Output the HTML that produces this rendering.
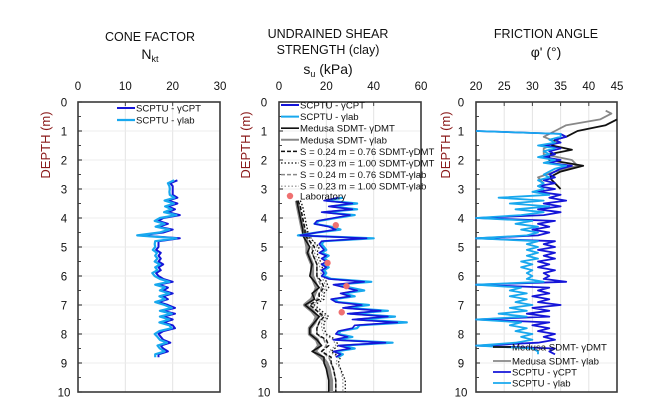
<!DOCTYPE html>
<html><head><meta charset="utf-8">
<style>
body{margin:0;background:#fff;}
svg{display:block;font-family:"Liberation Sans",Arial,sans-serif;}
</style></head>
<body>
<svg id="chart" width="650" height="414" viewBox="0 0 650 414" xmlns="http://www.w3.org/2000/svg"></svg>
<script>
// ---------- DATA ----------
const depthTicks = [0,1,2,3,4,5,6,7,8,9,10];
const nktXTicks = [0,10,20,30];
const suXTicks = [0,20,40,60];
const phiXTicks = [20,25,30,35,40,45];

// Panel 1: cone factor Nkt
const nktDepth = [2.7,2.8,2.9,3.0,3.1,3.2,3.3,3.4,3.5,3.6,3.7,3.8,3.9,4.0,4.1,4.2,4.3,4.4,4.5,4.6,4.7,4.8,4.9,5.0,5.1,5.2,5.3,5.4,5.5,5.6,5.7,5.8,5.9,6.0,6.1,6.2,6.3,6.4,6.5,6.6,6.7,6.8,6.9,7.0,7.1,7.2,7.3,7.4,7.5,7.6,7.7,7.8,7.9,8.0,8.1,8.2,8.3,8.4,8.5,8.6,8.7,8.8];
const nktCPT = [21,19.5,20,20,20,20,21,19,21,19,20.5,19,21.5,18,17,19,17,20,18,13,21.5,17,17,17,16.5,17.5,17,17.5,17,18,17,17.5,16.5,17,18,20,17,19,18,20,18,19,17,19,20.5,18,20.5,18,20,18,20,20.5,18,17,17.5,18,19.5,17.5,18,19,17,17];
const nktLab = [20.3,19,19.3,19.4,19.3,19.4,20.4,18.3,20.3,18.4,19.8,18.2,20.8,17.3,16.2,18.3,16.4,19.3,17.2,12.5,20.8,16.3,16.2,16.3,15.8,16.7,16.3,16.8,16.2,17.3,16.3,16.8,15.7,16.2,17.3,19.3,16.3,18.4,17.3,19.3,17.2,18.4,16.3,18.3,19.8,17.3,19.8,17.3,19.3,17.2,19.3,19.8,17.2,16.2,16.8,17.3,18.8,16.8,17.3,18.3,16.3,16.3];

// Panel 2: undrained shear strength
const suDepth = [3.3,3.4,3.5,3.6,3.7,3.8,3.9,4.0,4.1,4.2,4.3,4.4,4.5,4.6,4.7,4.8,4.9,5.0,5.1,5.2,5.3,5.4,5.5,5.6,5.7,5.8,5.9,6.0,6.1,6.2,6.3,6.4,6.5,6.6,6.7,6.8,6.9,7.0,7.1,7.2,7.3,7.4,7.5,7.6,7.7,7.8,7.9,8.0,8.1,8.2,8.3,8.4,8.5,8.6,8.7,8.8];
const suCPT = [25,19,31,21,31,18,30,23,16,15,21,24,16,9,37,18,17,18,19,17,20,18,20,18,20,18,19,18,21,36,23,28,33,26,30,22,24,35,27,43,29,46,31,50,32,31,25,24,29,23,45,25,30,23,26,24];
const suLab = [27,20,33,22,33,19,32,24,17,15,22,26,16,8,40,19,18,19,20,18,21,19,21,19,21,19,20,19,22,39,24,30,36,27,32,23,25,38,28,46,30,49,33,54,34,33,26,25,31,24,48,26,32,24,27,25];
const dmtDepth = [3.4,3.6,4.0,4.4,4.6,5.0,5.2,5.6,6.0,6.2,6.4,6.6,6.8,7.0,7.2,7.4,7.6,7.8,8.0,8.2,8.4,8.6,8.8,9.0,9.2,9.6,10];
const suDMT = [7.5,8,9,10,10,13,12,14,13,15,17,14,15,11,14,17,15,13,13,16,18,14,19,19,20,21,21];
const suDMTlab = [7.5,8,9,10,11,12,12,14,14,15,16,15,14,11,14,16,15,13,13,16,17,15,18,20,21,22,22];
const suS076DMT = [8,9,10,11,11,15,14,16,16,18,19,17,17,13,16,19,17,16,16,20,21,18,22,22,23,24,24];
const suS100DMT = [9,10,11,12,12,17,16,18,19,20,21,19,19,15,18,21,19,19,20,24,25,22,26,25,26,28,28];
const suS076lab = [8,9,10,11,12,14,14,16,16,17,18,17,16,13,16,18,17,16,16,19,20,18,21,22,23,24,24];
const suS100lab = [9,10,11,12,13,16,15,17,18,19,20,18,18,14,17,20,18,18,19,23,24,21,25,24,26,27,27];
const labDepth = [4.25,5.55,6.35,7.25];
const labSu = [24,20.5,28.5,26.5];

// Panel 3: friction angle
const phiDepth = [1.0,1.1,1.2,1.3,1.4,1.5,1.6,1.7,1.8,1.9,2.0,2.1,2.2,2.3,2.4,2.5,2.6,2.7,2.8,2.9,3.0,3.1,3.2,3.3,3.4,3.5,3.6,3.7,3.8,3.9,4.0,4.1,4.2,4.3,4.4,4.5,4.6,4.7,4.8,4.9,5.0,5.1,5.2,5.3,5.4,5.5,5.6,5.7,5.8,5.9,6.0,6.1,6.2,6.3,6.4,6.5,6.6,6.7,6.8,6.9,7.0,7.1,7.2,7.3,7.4,7.5,7.6,7.7,7.8,7.9,8.0,8.1,8.2,8.3,8.4,8.5,8.6,8.7];
const phiCPT = [20,35,36,34,35,32,35,33,34,32,35,33,37,35,34,33,34,32,34,31,34,31,35,33,36,32,35,31,35,32,20,34,31,33,30,33,31,20,34,32,34,31,34,32,34,31,33,31,34,32,33,32,36,20,33,31,33,30,33,31,35,30,33,29,33,20,33,30,33,31,34,32,34,31,20,34,33,34];
const phiLab = [20,35,35,33,34,31,34,32,33,31,34,32,36,34,33,32,33,31,32,31,32,30,33,24,32,26,33,27,32,28,20,30,27,31,28,31,29,20,31,29,31,29,31,29,31,28,30,28,30,29,30,29,32,20,28,26,29,26,29,27,30,26,29,24,29,20,28,26,29,27,30,28,30,27,20,30,31,31];
const phiDmtDepth = [0.6,0.8,1.0,1.2,1.3,1.5,1.65,1.8,2.0,2.2,2.4,2.6,2.8,3.0];
const phiDMT = [45,43,38,36,34,33.5,37,33,33,39,35,33,34,35];
const phiDmtLabDepth = [0.3,0.4,0.6,0.8,1.0,1.2,1.4,1.6,1.8,2.0,2.2,2.4,2.6,2.8];
const phiDMTlab = [43,44,42,36,34,32,34.5,32,32,37,38,34,31,32];

// ---------- DRAW ----------
const NS='http://www.w3.org/2000/svg';
const svg=document.getElementById('chart');
function el(tag,attrs,parent){const e=document.createElementNS(NS,tag);for(const k in attrs)e.setAttribute(k,attrs[k]);(parent||svg).appendChild(e);return e;}
const Y0=102,Y1=392;
const yS=d=>Y0+(d/10)*(Y1-Y0);
function makeX(x0,x1,v0,v1){return v=>x0+(v-v0)/(v1-v0)*(x1-x0);}

function panel(name,x0,x1,v0,v1,xticks,depthLabelX,tickLabelX){
  const g=el('g',{});
  
  
  const xs=makeX(x0,x1,v0,v1);
  xticks.forEach(t=>{
    const gl=el('line',{x1:xs(t),x2:xs(t),y1:Y0,y2:Y1,stroke:'#e4e4e4','stroke-width':1},g);
    
    
    const tl=el('text',{x:xs(t),y:90,'font-size':11.5,'text-anchor':'middle',fill:'#111'},g);
    
    
    tl.textContent=t;
  });
  depthTicks.forEach(t=>{
    const gl=el('line',{x1:x0,x2:x1,y1:yS(t),y2:yS(t),stroke:'#ececec','stroke-width':1},g);
    
    
    el('line',{x1:x0,x2:x0+4,y1:yS(t),y2:yS(t),stroke:'#444','stroke-width':1.2},g);
    if(t<10) el('line',{x1:x0,x2:x0+3,y1:yS(t+0.5),y2:yS(t+0.5),stroke:'#444','stroke-width':1},g);
    const tl=el('text',{x:tickLabelX,y:yS(t)+4.5,'font-size':11.5,'text-anchor':'middle',fill:'#111'},g);
    
    
    tl.textContent=t;
  });
  xticks.forEach(t=>el('line',{x1:xs(t),x2:xs(t),y1:Y0,y2:Y0+4,stroke:'#444','stroke-width':1},g));
  const fr=el('rect',{x:x0,y:Y0,width:x1-x0,height:Y1-Y0,fill:'none',stroke:'#3a3a3a','stroke-width':1.6},g);
  
  
  const cy=145;
  const yl=el('text',{x:depthLabelX,y:cy,'font-size':13,'text-anchor':'middle',fill:'#8b1a1a',transform:`rotate(-90 ${depthLabelX} ${cy})`},g);
  
  
  yl.textContent='DEPTH (m)';
  return {g,xs};
}
function line(p,xsArr,ds,color,w,dash,name,opacity){
  const pts=xsArr.map((v,i)=>p.xs(v).toFixed(1)+','+yS(ds[i]).toFixed(1)).join(' ');
  const a={points:pts,fill:'none',stroke:color,'stroke-width':w,'stroke-linejoin':'round'};
  if(dash)a['stroke-dasharray']=dash;
  if(opacity)a['stroke-opacity']=opacity;
  const l=el('polyline',a,p.g);
  
  
  return l;
}
function legend(g,x,y,color,w,dash,label,name,marker){
  const lg=el('g',{},g);
  
  
  if(marker){el('circle',{cx:x+9,cy:y,r:3.2,fill:'#ef7070'},lg);}
  else{const a={x1:x,x2:x+18,y1:y,y2:y,stroke:color,'stroke-width':w};if(dash)a['stroke-dasharray']=dash;el('line',a,lg);}
  const t=el('text',{x:x+19,y:y+3.5,'font-size':9.6,fill:'#111'},lg);
  t.textContent=label;
}
function title(lines){
  lines.forEach(l=>{
    const t=el('text',{x:l[0],y:l[1],'font-size':l[2]||13,'text-anchor':'middle',fill:'#111'});
    
    
    t.innerHTML=l[3];
  });
}

// Panel 1
const p1=panel('cone-factor-panel',78,220,0,30,nktXTicks,50,64);
line(p1,nktCPT,nktDepth,'#1515d8',2,null,'nkt-gammacpt-line');
line(p1,nktLab,nktDepth,'#18a8ee',2.2,null,'nkt-gammalab-line');
legend(p1.g,117,108,'#1515d8',2,null,'SCPTU - γCPT','legend-nkt-gammacpt');
legend(p1.g,117,120,'#18a8ee',2.2,null,'SCPTU - γlab','legend-nkt-gammalab');
title([[150,41,12.5,'CONE FACTOR','panel1-title'],[150,59,14,'N<tspan font-size="9" dy="3">kt</tspan>','panel1-unit']]);

// Panel 2
const p2=panel('undrained-shear-strength-panel',279,421,0,60,suXTicks,250,264);
line(p2,suDMTlab,dmtDepth,'#888',4,null,'su-sdmt-gammalab-line');
line(p2,suDMT,dmtDepth,'#111',1.6,null,'su-sdmt-gammadmt-line');
line(p2,suS076lab,dmtDepth,'#888',1.5,'4,2','su-s076-sdmt-gammalab-line');
line(p2,suS076DMT,dmtDepth,'#111',1.5,'4,2','su-s076-sdmt-gammadmt-line');
line(p2,suS100lab,dmtDepth,'#888',1.2,'1.5,2','su-s100-sdmt-gammalab-line');
line(p2,suS100DMT,dmtDepth,'#111',1.3,'1.5,2','su-s100-sdmt-gammadmt-line');
line(p2,suLab,suDepth,'#18a8ee',2.2,null,'su-gammalab-line');
line(p2,suCPT,suDepth,'#1515d8',1.6,null,'su-gammacpt-line');
labDepth.forEach((d,i)=>{const c=el('circle',{cx:p2.xs(labSu[i]),cy:yS(d),r:3.2,fill:'#ef7070'},p2.g);
  
  });
const lg2=[['#1515d8',2,null,'SCPTU - γCPT','legend-su-gammacpt'],['#18a8ee',2,null,'SCPTU - γlab','legend-su-gammalab'],['#111',1.6,null,'Medusa SDMT- γDMT','legend-su-sdmt-gammadmt'],['#888',2,null,'Medusa SDMT- γlab','legend-su-sdmt-gammalab'],['#111',1.5,'4,2','S = 0.24 m = 0.76 SDMT-γDMT','legend-su-s076-dmt'],['#111',1.3,'1.5,2','S = 0.23 m = 1.00 SDMT-γDMT','legend-su-s100-dmt'],['#888',1.5,'4,2','S = 0.24 m = 0.76 SDMT-γlab','legend-su-s076-lab'],['#888',1.2,'1.5,2','S = 0.23 m = 1.00 SDMT-γlab','legend-su-s100-lab']];
lg2.forEach((l,i)=>legend(p2.g,281,105+i*11.6,l[0],l[1],l[2],l[3],l[4]));
legend(p2.g,281,196,null,0,null,'Laboratory','legend-laboratory',true);
title([[328,38,12.5,'UNDRAINED SHEAR','panel2-title-1'],[328,54,12.5,'STRENGTH (clay)','panel2-title-2'],[328,74,14,'s<tspan font-size="9" dy="3">u</tspan><tspan dy="-3"> (kPa)</tspan>','panel2-unit']]);

// Panel 3
const p3=panel('friction-angle-panel',476,617,20,45,phiXTicks,450,461);
line(p3,phiDMTlab,phiDmtLabDepth,'#888',1.8,null,'phi-sdmt-gammalab-line');
line(p3,phiDMT,phiDmtDepth,'#111',1.8,null,'phi-sdmt-gammadmt-line');
line(p3,phiCPT,phiDepth,'#1515d8',1.8,null,'phi-gammacpt-line');
line(p3,phiLab,phiDepth,'#18a8ee',1.8,null,'phi-gammalab-line');
legend(p3.g,493,347,'#111',1.8,null,'Medusa SDMT- γDMT','legend-phi-sdmt-gammadmt');
legend(p3.g,493,361,'#888',1.8,null,'Medusa SDMT- γlab','legend-phi-sdmt-gammalab');
legend(p3.g,493,372,'#1515d8',1.8,null,'SCPTU - γCPT','legend-phi-gammacpt');
legend(p3.g,493,383,'#18a8ee',1.8,null,'SCPTU - γlab','legend-phi-gammalab');
title([[546,38,12.5,'FRICTION ANGLE','panel3-title'],[546,57,14,'φ\' (°)','panel3-unit']]);
</script>
</body></html>
